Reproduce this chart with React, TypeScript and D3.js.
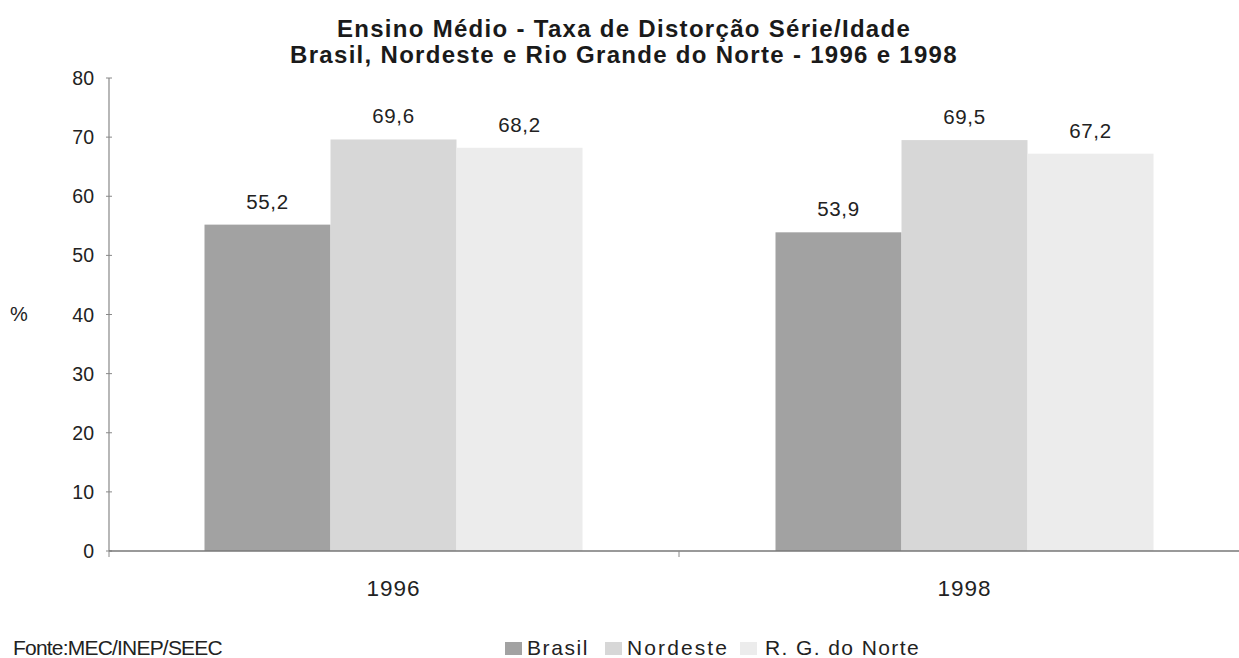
import React from "react";
import * as d3 from "d3";

const years = ["1996", "1998"];
const seriesNames = ["Brasil", "Nordeste", "R. G. do Norte"];
const brasil = [55.2, 53.9];
const nordeste = [69.6, 69.5];
const rgNorte = [68.2, 67.2];
const yTicks = [0, 10, 20, 30, 40, 50, 60, 70, 80];
const colors = ["#a2a2a2", "#d7d7d7", "#ececec"];
const titleLines = [
  "Ensino Médio - Taxa de Distorção Série/Idade",
  "Brasil, Nordeste e Rio Grande do Norte - 1996 e 1998",
];

const W = 1239;
const H = 658;
const font = "'Liberation Sans', Arial, sans-serif";

export default function App() {
  const values = [brasil, nordeste, rgNorte];
  const x0 = d3.scaleBand<string>().domain(years).range([108, 1250]).paddingInner(0.338).paddingOuter(0.169);
  const x1 = d3.scaleBand<string>().domain(seriesNames).range([0, x0.bandwidth()]);
  const y = d3.scaleLinear().domain([0, 80]).range([551, 78]);
  const fmt = (v: number) => v.toFixed(1).replace(".", ",");
  const midTick = (x0("1996")! + x0("1998")! + x0.bandwidth()) / 2;
  const axisX = 109;

  return (
    <svg width={W} height={H} style={{ position: "absolute", left: 0, top: 0, background: "#fff" }} fontFamily={font}>
      <rect x={0} y={0} width={W} height={H} fill="#fff" />
      {titleLines.map((t, i) => (
        <text key={i} x={624} y={37 + i * 26} textAnchor="middle" fontSize={24} fontWeight="bold" fill="#1a1a1a" letterSpacing={1.3}>
          {t}
        </text>
      ))}
      {/* bars */}
      {years.map((yr, gi) =>
        seriesNames.map((s, si) => {
          const v = values[si][gi];
          const bx = x0(yr)! + x1(s)!;
          return (
            <g key={yr + s}>
              <rect x={bx} y={y(v)} width={x1.bandwidth()} height={y(0) - y(v)} fill={colors[si]} />
              <text x={bx + x1.bandwidth() / 2} y={y(v) - 16} textAnchor="middle" fontSize={20.5} fill="#222" letterSpacing={0.6}>
                {fmt(v)}
              </text>
            </g>
          );
        })
      )}
      {/* y axis */}
      <line x1={axisX} x2={axisX} y1={y(80)} y2={y(0)} stroke="#888" strokeWidth={1.2} />
      {yTicks.map((t) => (
        <g key={t}>
          <line x1={axisX - 3} x2={axisX + 3} y1={y(t)} y2={y(t)} stroke="#888" strokeWidth={1} />
          <text x={94} y={y(t) + 7} textAnchor="end" fontSize={19.5} fill="#222">
            {t}
          </text>
        </g>
      ))}
      <text x={19} y={321} textAnchor="middle" fontSize={20} fill="#222">%</text>
      {/* x axis */}
      <line x1={axisX} x2={W} y1={y(0)} y2={y(0)} stroke="#777" strokeWidth={1.4} />
      <line x1={axisX} x2={axisX} y1={y(0)} y2={y(0) + 6} stroke="#888" />
      <line x1={midTick} x2={midTick} y1={y(0)} y2={y(0) + 6} stroke="#888" />
      {years.map((yr) => (
        <text key={yr} x={x0(yr)! + x0.bandwidth() / 2} y={596} textAnchor="middle" fontSize={22.5} fill="#222" letterSpacing={1}>
          {yr}
        </text>
      ))}
      {/* footer */}
      <text x={13} y={655} fontSize={21} fill="#222" letterSpacing={-0.8}>Fonte:MEC/INEP/SEEC</text>
      {/* legend */}
      {(() => {
        const pos = [505, 605, 740];
        const spacing = [1.6, 2.1, 1.4];
        return seriesNames.map((s, i) => (
          <g key={s}>
            <rect x={pos[i]} y={642} width={17} height={13} fill={colors[i]} />
            <text x={pos[i] + 22 + (i === 2 ? 3 : 0)} y={655} fontSize={21} fill="#222" letterSpacing={spacing[i]}>
              {s}
            </text>
          </g>
        ));
      })()}
    </svg>
  );
}
